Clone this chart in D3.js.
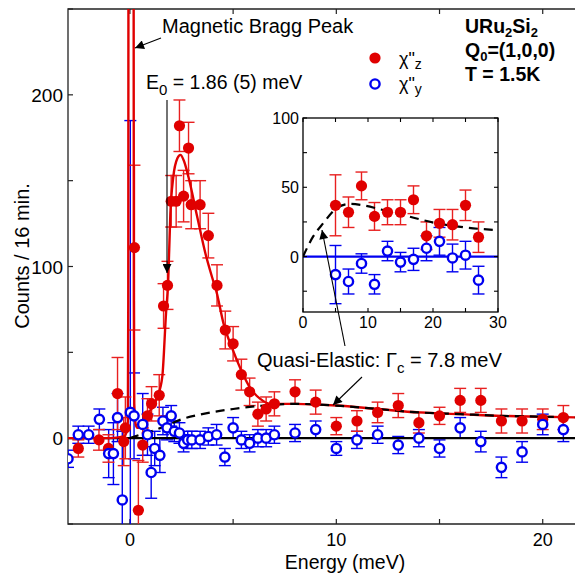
<!DOCTYPE html>
<html>
<head>
<meta charset="utf-8">
<script src="https://cdn.jsdelivr.net/npm/d3@7"></script>
<style>
  body { margin: 0; background: #fff; }
  text { font-family: "Liberation Sans", Arial, sans-serif; fill: #000; }
</style>
</head>
<body>
<div id="chart"></div>
<script>
// main panel: [energy, counts, error]
const redMain = [
    [-2.5, -6, 5], [-1.5, -1, 6], [-1.04, -6, 8], [-0.6, 26, 21], [-0.3, -2, 14], [-0.22, 6, 18],
    [0.22, 111, 48], [0.41, -42, 29], [0.62, -4, 10], [0.85, 13, 10], [1.05, 20, 10], [1.42, 25, 12],
    [1.63, 77, 13], [1.82, 89, 14], [2.0, 138, 15], [2.24, 138, 15], [2.4, 182, 15], [2.6, 141, 15],
    [2.84, 169, 15], [2.97, 136, 14], [3.4, 136, 14], [3.8, 118, 13], [4.22, 89, 12], [4.62, 63, 11],
    [5.0, 55, 10], [5.4, 37, 9], [5.8, 27, 8], [6.2, 14, 7], [6.6, 17, 7], [7.0, 20, 7],
    [8, 27, 7], [9, 21, 7], [10, 7, 5], [11, 10, 6], [12, 15, 6], [13, 19, 7], [14, 9, 6],
    [15, 13, 5], [16, 22, 7], [17, 22, 7], [18, 10, 7], [19, 10, 7], [20, 11, 6], [21, 12, 7]
];
const blueMain = [
    [-3.0, -12, 5], [-2.5, 2, 5], [-2.0, 2, 5], [-1.48, 11, 6], [-1.03, -9, 14], [-0.8, -9, 18],
    [-0.6, 12, 14], [-0.37, -36, 40], [0.02, 15, 170], [0.2, 13, 25], [0.62, 8, 18], [0.85, 2, 12],
    [1.03, -20, 15], [1.2, -6, 10], [1.45, -10, 10], [1.6, 10, 8], [1.8, 6, 7], [2.0, 13, 6],
    [2.15, 4, 6], [2.4, 3, 6], [2.6, -3, 5], [2.8, -1, 5], [3.0, -1, 5], [3.4, -1, 5], [3.8, 1, 5],
    [4.2, 2, 6], [4.6, -11, 5], [5.0, 6, 6], [5.4, -1, 5], [5.8, -3, 5], [6.2, 0, 5], [6.6, 0, 5],
    [7.0, 2, 5], [8, 3, 5], [9, 5, 5], [10, -6, 4], [11, -1, 5], [12, 2, 5], [13, -4, 5], [14, 0, 5],
    [15, -6, 5], [16, 6, 6], [17, -2, 6], [18, -17, 6], [19, -8, 6], [20, 8, 6], [21, 5, 7]
];
// fit curve
const fitMain = [
    [-3, 0], [-1, 0], [-0.3, 1], [-0.15, 4], [-0.1, 10], [-0.08, 80], [-0.07, 270],
    [0.18, 270], [0.19, 80], [0.21, 20], [0.28, 8], [0.37, 6], [0.66, 9], [0.84, 14], [1.1, 18],
    [1.33, 24], [1.57, 36], [1.75, 73], [1.85, 90], [1.96, 131], [2.1, 152], [2.3, 163], [2.45, 165],
    [2.6, 162], [2.84, 152], [3.26, 129], [3.65, 108], [4.0, 93], [4.2, 85], [4.53, 67], [5.0, 51],
    [5.45, 38], [5.84, 29], [6.3, 23], [6.8, 20], [7.3, 20], [8, 20], [10, 19], [12, 17], [14, 15],
    [16, 14], [18, 13], [20, 12.5], [22, 12]
];
const quasiMain = [
    [0, 0], [0.5, 2], [1.5, 6], [2.5, 11], [3.5, 14], [5, 17], [6.5, 19], [8, 20], [10, 19],
    [12, 17], [14, 15], [16, 14], [18, 13], [20, 12.5], [22, 12]
];

// inset
const redInset = [
    [5, 37, 22], [7, 32, 11], [9, 51, 10], [11, 29, 10], [13, 32, 9], [15, 32, 9],
    [17, 41, 10], [19, 15, 10], [21, 24, 10], [23, 23, 11], [25, 37, 11], [27, 14, 11]
];
const blueInset = [
    [5, -13, 21], [7, -18, 9], [9, -5, 7], [11, -20, 7], [13, 4, 7], [15, -4, 7],
    [17, -2, 8], [19, 6, 9], [21, 11, 10], [23, -1, 10], [25, 1, 10], [27, -17, 10]
];
const quasiInset = [
    [0, 0], [1.5, 14], [3.1, 24], [5.2, 35], [7.2, 38], [9.2, 37], [12, 34], [15.4, 30],
    [20.6, 24], [25, 21], [30, 19]
];

const mainXTicks = [0, 10, 20];
const mainYTicks = [0, 100, 200];
const insetXTicks = [0, 10, 20, 30];
const insetYTicks = [0, 50, 100];

const RED = "#e00000";
const BLUE = "#0000f0";

const width = 575, height = 576;
const svg = d3.select("#chart").append("svg")
    .attr("width", width).attr("height", height);

const defs = svg.append("defs");
defs.append("marker")
    .attr("id", "arrow")
    .attr("viewBox", "0 0 10 10")
    .attr("refX", 10).attr("refY", 5)
    .attr("markerWidth", 12).attr("markerHeight", 9)
    .attr("markerUnits", "userSpaceOnUse")
    .attr("orient", "auto")
    .append("path").attr("d", "M0,0L10,5L0,10z").attr("fill", "#000");

const plot = { left: 68, right: 584, top: 9, bottom: 524 };
defs.append("clipPath").attr("id", "clipMain")
    .append("rect").attr("x", plot.left).attr("y", plot.top)
    .attr("width", plot.right - plot.left).attr("height", plot.bottom - plot.top);

const x = d3.scaleLinear().domain([-3, 22]).range([plot.left, plot.right]);
const y = d3.scaleLinear().domain([-50, 250]).range([plot.bottom, plot.top]);

// frame
svg.append("path")
    .attr("d", `M${plot.right},${plot.top}H${plot.left}V${plot.bottom}H${plot.right}`)
    .attr("fill", "none").attr("stroke", "#222").attr("stroke-width", 1.3);

// ticks (inward, every 5 / 50)
const tickG = svg.append("g").attr("stroke", "#222").attr("stroke-width", 1.2);
d3.range(0, 22, 5).forEach(v => {
    tickG.append("line").attr("x1", x(v)).attr("x2", x(v)).attr("y1", plot.bottom).attr("y2", plot.bottom - 5);
    tickG.append("line").attr("x1", x(v)).attr("x2", x(v)).attr("y1", plot.top).attr("y2", plot.top + 5);
});
d3.range(-50, 251, 50).forEach(v => {
    tickG.append("line").attr("x1", plot.left).attr("x2", plot.left + 5).attr("y1", y(v)).attr("y2", y(v));
});

svg.selectAll(".xlab").data(mainXTicks).enter().append("text")
    .attr("x", d => x(d)).attr("y", 546).attr("text-anchor", "middle")
    .style("font-size", "18px").text(d => d);
svg.selectAll(".ylab").data(mainYTicks).enter().append("text")
    .attr("x", 63).attr("y", d => y(d) + 7).attr("text-anchor", "end")
    .style("font-size", "19px").text(d => d);

svg.append("text").attr("x", 345).attr("y", 569).attr("text-anchor", "middle")
    .style("font-size", "19.5px").text("Energy (meV)");
svg.append("text").attr("transform", "translate(29,256) rotate(-90)")
    .attr("text-anchor", "middle").style("font-size", "20px").text("Counts / 16 min.");

const g = svg.append("g").attr("clip-path", "url(#clipMain)");

function errorBars(sel, data, sx, sy, color, cap) {
    const eb = sel.append("g").attr("stroke", color).attr("stroke-width", 1.4);
    data.forEach(d => {
        const cx = sx(d[0]);
        eb.append("line").attr("x1", cx).attr("x2", cx).attr("y1", sy(d[1] - d[2])).attr("y2", sy(d[1] + d[2]));
        eb.append("line").attr("x1", cx - cap).attr("x2", cx + cap).attr("y1", sy(d[1] - d[2])).attr("y2", sy(d[1] - d[2]));
        eb.append("line").attr("x1", cx - cap).attr("x2", cx + cap).attr("y1", sy(d[1] + d[2])).attr("y2", sy(d[1] + d[2]));
    });
}

errorBars(g, blueMain, x, y, BLUE, 6);
errorBars(g, redMain, x, y, "#e82020", 6);

// zero line
g.append("line").attr("x1", plot.left).attr("x2", plot.right)
    .attr("y1", y(0)).attr("y2", y(0)).attr("stroke", "#000").attr("stroke-width", 2.2);

const line = (sx, sy) => d3.line().x(d => sx(d[0])).y(d => sy(d[1])).curve(d3.curveMonotoneX);

g.append("path").datum(fitMain).attr("d", line(x, y))
    .attr("fill", "none").attr("stroke", RED).attr("stroke-width", 2.4);
g.append("path").datum(quasiMain).attr("d", line(x, y))
    .attr("fill", "none").attr("stroke", "#000").attr("stroke-width", 2.2)
    .attr("stroke-dasharray", "9,6");

g.selectAll(".rdot").data(redMain).enter().append("circle")
    .attr("cx", d => x(d[0])).attr("cy", d => y(d[1])).attr("r", 5.6).attr("fill", RED);
g.selectAll(".bdot").data(blueMain).enter().append("circle")
    .attr("cx", d => x(d[0])).attr("cy", d => y(d[1])).attr("r", 4.6)
    .attr("fill", "#fff").attr("stroke", BLUE).attr("stroke-width", 2.4);

// ---- inset ----
const ins = { left: 303, right: 498, top: 118, bottom: 312 };
const xi = d3.scaleLinear().domain([0, 30]).range([ins.left, ins.right]);
const yi = d3.scaleLinear().domain([-40, 100]).range([ins.bottom, ins.top]);
defs.append("clipPath").attr("id", "clipInset")
    .append("rect").attr("x", ins.left).attr("y", ins.top)
    .attr("width", ins.right - ins.left).attr("height", ins.bottom - ins.top);

svg.append("rect").attr("x", ins.left).attr("y", ins.top)
    .attr("width", ins.right - ins.left).attr("height", ins.bottom - ins.top)
    .attr("fill", "#fff");

const gi = svg.append("g").attr("clip-path", "url(#clipInset)");
errorBars(gi, blueInset, xi, yi, BLUE, 6);
errorBars(gi, redInset, xi, yi, "#e82020", 6);
gi.append("line").attr("x1", ins.left).attr("x2", ins.right)
    .attr("y1", yi(0)).attr("y2", yi(0)).attr("stroke", BLUE).attr("stroke-width", 2.2);
gi.append("path").datum(quasiInset).attr("d", line(xi, yi))
    .attr("fill", "none").attr("stroke", "#000").attr("stroke-width", 2.2)
    .attr("stroke-dasharray", "9,6");
gi.selectAll(".rdot").data(redInset).enter().append("circle")
    .attr("cx", d => xi(d[0])).attr("cy", d => yi(d[1])).attr("r", 5.6).attr("fill", RED);
gi.selectAll(".bdot").data(blueInset).enter().append("circle")
    .attr("cx", d => xi(d[0])).attr("cy", d => yi(d[1])).attr("r", 4.6)
    .attr("fill", "#fff").attr("stroke", BLUE).attr("stroke-width", 2.4);

svg.append("rect").attr("x", ins.left).attr("y", ins.top)
    .attr("width", ins.right - ins.left).attr("height", ins.bottom - ins.top)
    .attr("fill", "none").attr("stroke", "#000").attr("stroke-width", 1.3);

const tickI = svg.append("g").attr("stroke", "#000").attr("stroke-width", 1.1);
d3.range(0, 31, 5).forEach(v => {
    tickI.append("line").attr("x1", xi(v)).attr("x2", xi(v)).attr("y1", ins.bottom).attr("y2", ins.bottom - 4);
    tickI.append("line").attr("x1", xi(v)).attr("x2", xi(v)).attr("y1", ins.top).attr("y2", ins.top + 4);
});
d3.range(-25, 101, 25).forEach(v => {
    tickI.append("line").attr("x1", ins.left).attr("x2", ins.left + 4).attr("y1", yi(v)).attr("y2", yi(v));
    tickI.append("line").attr("x1", ins.right).attr("x2", ins.right - 4).attr("y1", yi(v)).attr("y2", yi(v));
});
svg.selectAll(".ixlab").data(insetXTicks).enter().append("text")
    .attr("x", d => xi(d)).attr("y", 328).attr("text-anchor", "middle")
    .style("font-size", "16px").text(d => d);
svg.selectAll(".iylab").data(insetYTicks).enter().append("text")
    .attr("x", 299).attr("y", d => yi(d) + 6).attr("text-anchor", "end")
    .style("font-size", "16px").text(d => d);

// ---- annotations ----
function arrow(x1, y1, x2, y2) {
    svg.append("line").attr("x1", x1).attr("y1", y1).attr("x2", x2).attr("y2", y2)
        .attr("stroke", "#000").attr("stroke-width", 1.1).attr("marker-end", "url(#arrow)");
}

svg.append("text").attr("x", 162).attr("y", 33).style("font-size", "20px").text("Magnetic Bragg Peak");
arrow(161, 38, 135, 48);

const e0 = svg.append("text").attr("x", 146).attr("y", 89).style("font-size", "19.5px");
e0.append("tspan").text("E");
e0.append("tspan").attr("dy", 6).style("font-size", "15px").text("0");
e0.append("tspan").attr("dy", -6).text(" = 1.86 (5) meV");
arrow(167, 100, 167, 273);

const qe = svg.append("text").attr("x", 257).attr("y", 367).style("font-size", "20px");
qe.append("tspan").text("Quasi-Elastic: Γ");
qe.append("tspan").attr("dy", 6).style("font-size", "15px").text("c");
qe.append("tspan").attr("dy", -6).text(" = 7.8 meV");
arrow(362, 377, 333, 405);
arrow(345, 346, 322, 230);

const info = svg.append("g").style("font-weight", "bold");
const t1 = info.append("text").attr("x", 465).attr("y", 33).style("font-size", "19.5px");
t1.append("tspan").text("URu");
t1.append("tspan").attr("dy", 3.5).style("font-size", "13px").text("2");
t1.append("tspan").attr("dy", -3.5).text("Si");
t1.append("tspan").attr("dy", 3.5).style("font-size", "13px").text("2");
const t2 = info.append("text").attr("x", 465).attr("y", 57).style("font-size", "19.5px");
t2.append("tspan").text("Q");
t2.append("tspan").attr("dy", 3.5).style("font-size", "13px").text("0");
t2.append("tspan").attr("dy", -3.5).text("=(1,0,0)");
info.append("text").attr("x", 465).attr("y", 81).style("font-size", "19.5px").text("T = 1.5K");

// legend
svg.append("circle").attr("cx", 375).attr("cy", 58).attr("r", 5.6).attr("fill", RED);
svg.append("circle").attr("cx", 375).attr("cy", 84).attr("r", 4.6)
    .attr("fill", "#fff").attr("stroke", BLUE).attr("stroke-width", 2.4);
[["z", 65], ["y", 90]].forEach(([s, yy]) => {
    const t = svg.append("text").attr("x", 399).attr("y", yy).style("font-size", "18px");
    t.append("tspan").text("χ\"");
    t.append("tspan").attr("dy", 4).style("font-size", "14px").text(s);
});
</script>
</body>
</html>
